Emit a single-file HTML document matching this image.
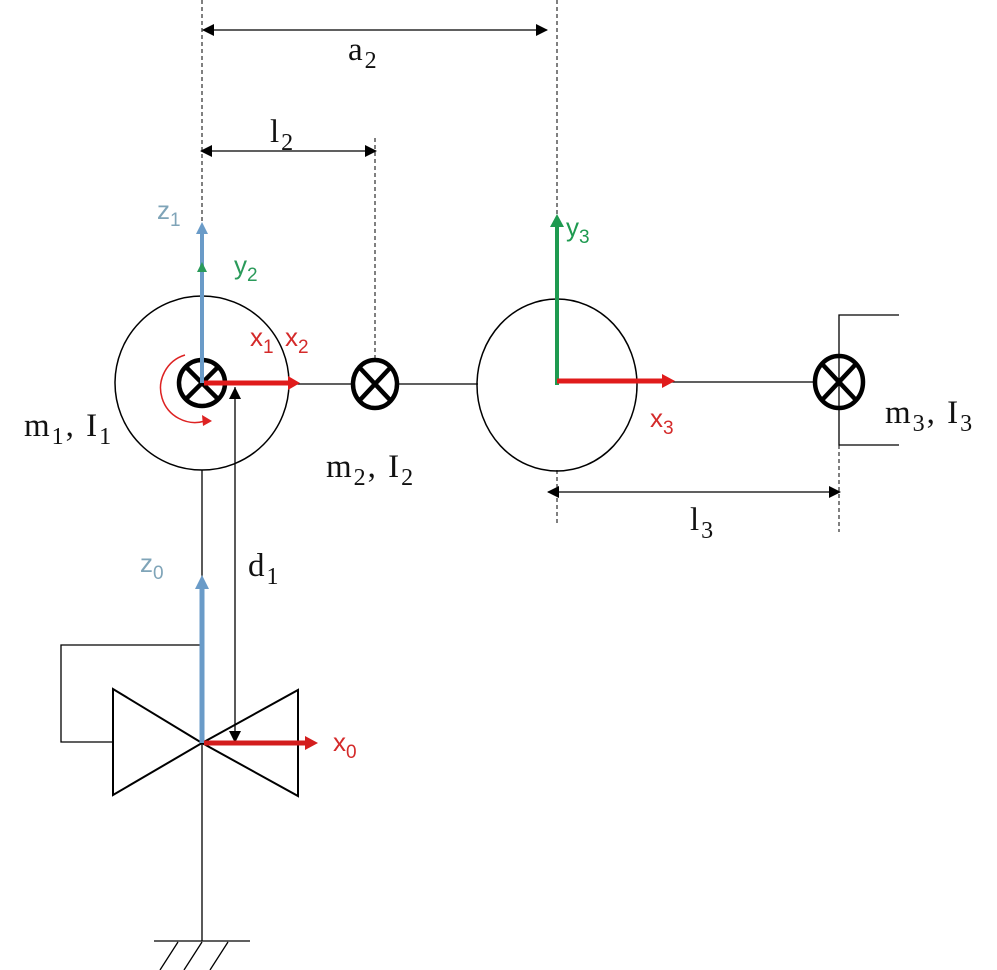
<!DOCTYPE html>
<html><head><meta charset="utf-8"><style>
html,body{margin:0;padding:0;background:#fff;}
svg{display:block;}
.s{font-family:"Liberation Serif",serif;font-size:33px;fill:#111;letter-spacing:2px;}
.a{font-family:"Liberation Sans",sans-serif;font-size:26px;}
</style></head><body>
<svg width="997" height="970" viewBox="0 0 997 970" xmlns="http://www.w3.org/2000/svg">
<defs>
<marker id="akb" markerWidth="12" markerHeight="12" refX="11" refY="6" orient="auto-start-reverse" markerUnits="userSpaceOnUse"><path d="M0,0 L12,6 L0,12 z" fill="#000"/></marker>
</defs>
<g stroke="#000" stroke-width="1" stroke-dasharray="4,3" fill="none">
<line x1="202" y1="0" x2="202" y2="290"/>
<line x1="557" y1="0" x2="557" y2="300"/>
<line x1="557" y1="470" x2="557" y2="525"/>
<line x1="375" y1="138" x2="375" y2="362"/>
<line x1="839" y1="445" x2="839" y2="532"/>
</g>
<g stroke="#000" stroke-width="1.3" fill="none">
<line x1="203" y1="30" x2="547" y2="30" marker-start="url(#akb)" marker-end="url(#akb)"/>
<line x1="201" y1="151" x2="376" y2="151" marker-start="url(#akb)" marker-end="url(#akb)"/>
<line x1="548" y1="492" x2="840" y2="492" marker-start="url(#akb)" marker-end="url(#akb)"/>
<ellipse cx="202" cy="383" rx="87" ry="87" stroke-width="1.5"/>
<ellipse cx="557" cy="385" rx="80" ry="86" stroke-width="1.5"/>
<line x1="289" y1="384" x2="353" y2="384"/>
<line x1="397" y1="384" x2="478" y2="384"/>
<line x1="637" y1="382" x2="816" y2="382"/>
<polyline points="899,315 839,315 839,445 899,445"/>
<line x1="202" y1="470" x2="202" y2="941"/>
<polyline points="202,645 61,645 61,742 113,742"/>
<polygon points="113,689 113,795 202,743" stroke-width="2"/>
<polygon points="298,690 298,796 202,743" stroke-width="2"/>
<line x1="154" y1="941" x2="250" y2="941"/>
<line x1="178" y1="942" x2="160" y2="970"/>
<line x1="202" y1="942" x2="184" y2="970"/>
<line x1="228" y1="942" x2="210" y2="970"/>
<line x1="235" y1="742" x2="235" y2="387"/>
</g>
<path d="M235,387 l-6,12 h12 z" fill="#000"/>
<path d="M235,743 l-6,-12 h12 z" fill="#000"/>
<g stroke="#000" stroke-width="4.5" fill="none">
<ellipse cx="202" cy="383" rx="23" ry="23"/>
<line x1="186" y1="367" x2="218" y2="399"/><line x1="218" y1="367" x2="186" y2="399"/>
<ellipse cx="375" cy="384" rx="22" ry="24"/>
<line x1="360" y1="368" x2="390" y2="400"/><line x1="390" y1="368" x2="360" y2="400"/>
<ellipse cx="839" cy="382" rx="24" ry="26"/>
<line x1="823" y1="365" x2="855" y2="399"/><line x1="855" y1="365" x2="823" y2="399"/>
</g>
<path d="M185,355 A30,30 0 0 0 205,421" stroke="#d22" stroke-width="1.5" fill="none"/>
<path d="M212,421 l-10,-6 l1,11 z" fill="#d22"/>
<line x1="202" y1="383" x2="202" y2="232" stroke="#6a9bc8" stroke-width="4"/>
<path d="M202,222 l-6,12 h12 z" fill="#6a9bc8"/>
<path d="M202,262 l-5,10 h10 z" fill="#2a9a5a"/>
<line x1="204" y1="383" x2="288" y2="383" stroke="#e01b1b" stroke-width="5"/>
<path d="M300,383 l-12,-7 v14 z" fill="#e01b1b"/>
<line x1="557" y1="385" x2="557" y2="225" stroke="#1e9a50" stroke-width="4"/>
<path d="M557,214 l-7,13 h14 z" fill="#1e9a50"/>
<line x1="557" y1="381" x2="662" y2="381" stroke="#e01b1b" stroke-width="5"/>
<path d="M675,381 l-13,-7 v14 z" fill="#e01b1b"/>
<line x1="202" y1="743" x2="202" y2="588" stroke="#6a9bc8" stroke-width="5"/>
<path d="M202,575 l-7,14 h14 z" fill="#6a9bc8"/>
<line x1="204" y1="743" x2="305" y2="743" stroke="#d31d1d" stroke-width="5"/>
<path d="M318,743 l-13,-7 v14 z" fill="#d31d1d"/>
<text class="s" x="348" y="60">a<tspan font-size="24" dy="8">2</tspan></text>
<text class="s" x="270" y="142">l<tspan font-size="24" dy="8">2</tspan></text>
<text class="s" x="690" y="530">l<tspan font-size="24" dy="8">3</tspan></text>
<text class="s" x="248" y="576">d<tspan font-size="24" dy="8">1</tspan></text>
<text class="s" x="24" y="436">m<tspan font-size="24" dy="8">1</tspan><tspan dy="-8">, I</tspan><tspan font-size="24" dy="8">1</tspan></text>
<text class="s" x="326" y="477">m<tspan font-size="24" dy="8">2</tspan><tspan dy="-8">, I</tspan><tspan font-size="24" dy="8">2</tspan></text>
<text class="s" x="885" y="423">m<tspan font-size="24" dy="8">3</tspan><tspan dy="-8">, I</tspan><tspan font-size="24" dy="8">3</tspan></text>
<text class="a" x="157" y="219" fill="#7fa4b8">z<tspan font-size="19" dy="7">1</tspan></text>
<text class="a" x="234" y="274" fill="#2a9a5a">y<tspan font-size="19" dy="7">2</tspan></text>
<text class="a" x="250" y="346" fill="#d42a2a">x<tspan font-size="19" dy="7">1</tspan></text>
<text class="a" x="285" y="346" fill="#d42a2a">x<tspan font-size="19" dy="7">2</tspan></text>
<text class="a" x="566" y="236" fill="#1e9a50">y<tspan font-size="19" dy="7">3</tspan></text>
<text class="a" x="650" y="427" fill="#d42a2a">x<tspan font-size="19" dy="7">3</tspan></text>
<text class="a" x="140" y="572" fill="#7fa4b8">z<tspan font-size="19" dy="7">0</tspan></text>
<text class="a" x="333" y="751" fill="#d42a2a">x<tspan font-size="19" dy="7">0</tspan></text>
</svg>
</body></html>
